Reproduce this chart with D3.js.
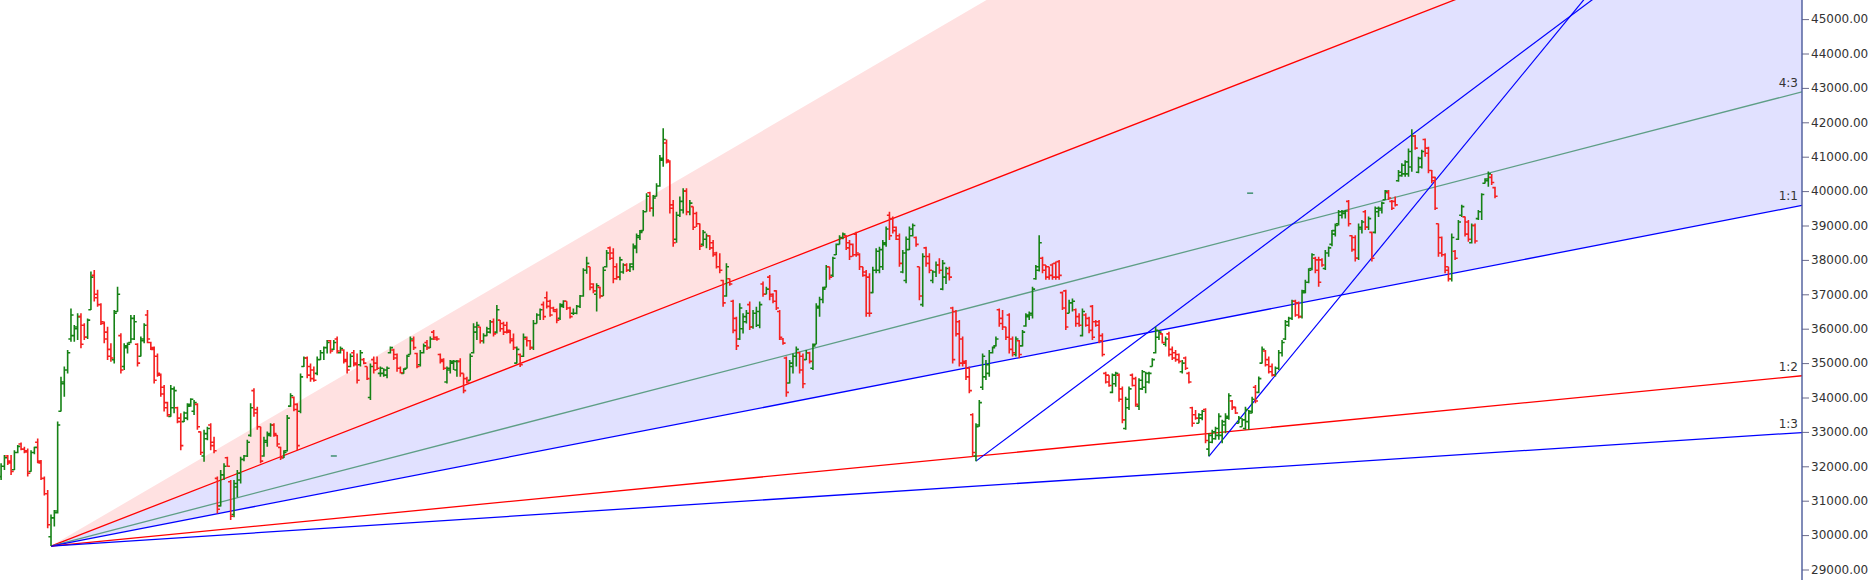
<!DOCTYPE html>
<html><head><meta charset="utf-8">
<script src="https://cdn.jsdelivr.net/npm/d3@7"></script>
<style>html,body{margin:0;padding:0;background:#fff;overflow:hidden}svg{display:block}</style>
</head><body>
<svg id="chart" width="1872" height="580"></svg>
<script>
// ---------------- DATA ----------------
const priceTicks = [29000,30000,31000,32000,33000,34000,35000,36000,37000,38000,39000,40000,41000,42000,43000,44000,45000];
const gannRatios = [3, 2, 4/3, 1, 1/2, 1/3];
const gannLabels = ["3:1", "2:1", "4:3", "1:1", "1:2", "1:3"];
const gannOrigin = [15, 29680];      // [bar index, price] of the fan origin (the low)
const gannUnit = 18.82;              // points per bar for the 1:1 angle
const trendStarts = [[293, 32150], [363, 32290]];
const trendThrough = [[434, 42360], [448.5, 42360]];
const markers = [[100, 32300], [375.4, 39940]];
// daily bars: [open, high, low, close]
const ohlc = [
[31700,32090,31600,32000],[32000,32330,31890,32250],[32300,32330,32040,32100],[32150,32330,31750,31850],[31900,32470,31890,32400],
[32400,32620,32380,32580],[32650,32690,32470,32500],[32500,32570,32380,32420],[32450,32520,31700,31800],[31850,32470,31840,32400],
[32400,32570,32350,32550],[32700,32810,32090,32150],[32100,32180,31600,31650],[31650,31700,31150,31200],[31200,31310,30200,30300],
[29950,30600,29680,30500],[30500,30730,30250,30650],[30700,33300,30630,33200],[33600,34600,33590,34450],[34400,34900,34020,34800],
[34800,35380,34700,35300],[35700,36590,35620,36400],[35800,36110,35620,36050],[36000,36450,35670,36350],[36350,36450,35430,35550],
[36100,36160,35670,35750],[35750,36300,35700,36250],[36550,37660,36540,37500],[37550,37710,36790,36900],[37000,37130,36640,36700],
[36700,36740,36110,36200],[36150,36210,35580,35700],[35900,36060,35090,35200],[35400,35580,35040,35150],[35100,36540,34990,36450],
[36500,37220,36490,37000],[35800,35870,34700,34800],[34900,35580,34800,35500],[35450,35600,35280,35550],[35600,36400,35580,36300],
[35700,36400,35670,36200],[35550,35580,34900,35000],[35200,35770,35190,35700],[35650,36160,35580,36100],[36400,36540,35580,35700],
[35600,35620,35380,35400],[35450,35480,34410,34500],[35200,35280,34600,34700],[34650,34700,34020,34100],[34300,34360,33590,33700],
[33850,33880,33440,33500],[33450,34360,33440,34250],[33700,34320,33540,34200],[33700,33730,33250,33300],[33400,33540,32470,32600],
[33300,33590,33290,33550],[33400,33830,33340,33750],[33800,33980,33730,33950],[33600,33930,33490,33850],[33800,33830,33060,33150],
[33000,33010,32330,32400],[32300,33060,32130,32950],[32800,33150,32760,33100],[33200,33250,32470,32600],[32700,32860,32380,32450],
[31650,31700,30630,30750],[30850,31890,30830,31750],[31750,32090,31600,32000],[32250,32280,31990,32000],[31550,31600,30440,30550],
[30600,31600,30520,31500],[31400,31890,31100,31800],[31600,32280,31500,32200],[32200,32330,32150,32300],[32300,32770,32270,32700],
[32900,33830,32860,33700],[34200,34270,33440,33550],[33650,33730,33060,33150],[33150,33150,32090,32150],[32300,32860,32280,32750],
[32700,33010,32570,32950],[32900,33250,32860,33200],[33200,33250,32860,32950],[32900,32910,32570,32650],[32550,32570,32180,32250],
[32250,32470,32240,32400],[32450,33490,32430,33400],[33750,34120,33730,34050],[34000,34030,33600,33650],[33800,33830,32470,32600],
[33600,34700,33540,34600],[34900,35190,34890,35150],[35150,35190,34560,34650],[34900,34990,34460,34550],[34800,34900,34460,34500],
[34700,35190,34650,35100],[35100,35380,35090,35300],[35300,35480,35090,35450],[35450,35670,35280,35600],[35650,35670,35280,35350],
[35400,35670,35380,35600],[35700,35770,35280,35350],[35300,35480,35280,35420],[35380,35400,34990,35050],[35100,35330,34700,34800],
[34900,35280,34880,35200],[35300,35380,34900,34950],[35000,35280,34410,34500],[34950,35380,34900,35300],[35100,35150,34970,35000],
[34900,34900,34510,34550],[34000,34990,33930,34900],[35100,35190,34700,34800],[35000,35190,34800,34850],[34700,34900,34600,34850],
[34700,34850,34600,34800],[34650,34900,34560,34850],[35300,35480,35280,35450],[35380,35420,35090,35150],[35250,35280,34750,34850],
[34850,34900,34700,34720],[34700,34850,34690,34820],[34850,35240,34840,35200],[35250,35770,35250,35700],[35650,35770,35380,35450],
[35280,35300,34850,34900],[34950,35380,34900,35300],[35300,35570,35280,35500],[35600,35670,35380,35450],[35450,35770,35440,35700],
[35900,35960,35670,35700],[35750,35780,35650,35700],[35250,35280,34990,35050],[35100,35140,34800,34850],[34450,34900,34410,34850],
[34800,35090,34700,35050],[35000,35090,34800,35050],[34800,35090,34600,35050],[35050,35140,34600,34700],[34700,34700,34120,34200],
[34550,34600,34410,34450],[34500,35280,34500,35200],[35300,36160,35280,36050],[35900,36200,35670,36100],[36050,36060,35570,35650],
[35650,35870,35570,35800],[35800,36060,35780,36000],[35900,36250,35860,36200],[36200,36300,35770,35850],[35900,36690,35860,36550],
[36250,36250,35910,36000],[36150,36200,35820,35900],[36100,36200,35860,35900],[35950,35960,35570,35650],[35700,35860,35380,35450],
[35000,35480,34990,35400],[35250,35280,34890,34950],[35200,35860,35180,35750],[35700,35770,35480,35650],[35650,35670,35380,35450],
[35450,36250,35380,36150],[36150,36450,36150,36400],[36400,36590,36250,36550],[36700,36790,36250,36350],[36900,37080,36590,36650],
[36800,36840,36350,36400],[36600,36640,36490,36500],[36550,36590,36160,36250],[36300,36740,36250,36700],[36650,36830,36600,36800],
[36800,36800,36540,36600],[36600,36640,36300,36350],[36450,36590,36400,36450],[36450,36690,36420,36650],[36650,36980,36600,36950],
[36950,37760,36930,37700],[37700,38090,37600,37900],[37800,37800,37120,37200],[37300,37320,37030,37100],[37000,37320,36500,37250],
[37200,37220,36880,36950],[36950,37800,36950,37700],[37800,38290,37780,38200],[38350,38390,38000,38050],[38200,38340,37320,37450],
[37800,37900,37420,37500],[37500,38090,37410,38000],[37650,37900,37600,37850],[37850,37900,37650,37700],[37700,37900,37650,37880],
[37800,38480,37700,38400],[38350,38770,38190,38700],[38650,38870,38580,38800],[38850,39450,38850,39400],[39400,39940,39400,39850],
[39950,39980,39400,39500],[39500,39890,39260,39800],[39850,40230,39840,40150],[40150,41050,40130,40950],[40900,41830,40710,41500],
[41400,41500,40800,40900],[40850,40900,39350,39500],[39600,39740,38380,38500],[38600,39400,38500,39300],[39300,39840,39250,39700],
[39450,40080,39350,40000],[40000,40080,39300,39400],[39400,39740,39300,39650],[39550,39550,38870,38950],[39350,39400,38960,39050],
[39050,39060,38290,38400],[38450,38870,38400,38800],[38600,38770,38340,38700],[38700,38720,38290,38350],[38500,38580,38090,38150],
[38200,38240,37750,37800],[37800,38190,37610,37700],[37400,37420,36640,36750],[36950,37900,36930,37800],[37450,37460,37250,37300],
[36800,36840,35870,35950],[36300,36350,35380,35500],[35700,36740,35670,36600],[36000,36450,35860,36350],[36200,36540,36150,36450],
[36700,36790,35960,36050],[36050,36540,36000,36450],[36450,36640,36050,36500],[36100,36790,36010,36700],[37300,37370,36930,37000],
[37000,37220,37000,37150],[37500,37560,36830,36950],[37000,37030,36740,36800],[37100,37120,36540,36600],[36500,36540,35670,35750],
[35700,35730,35530,35580],[35150,35190,34020,34150],[34420,35090,34410,35000],[34900,35280,34700,35200],[35200,35480,34900,35400],
[35300,35330,34700,34800],[35200,35280,34270,34400],[35100,35380,35090,35300],[35300,35330,34990,35050],[34850,35570,34800,35500],
[35550,36740,35550,36650],[36600,36930,36350,36850],[36850,37220,36740,37150],[37200,37850,37200,37800],[37800,37800,37420,37500],
[37550,38090,37500,38050],[38150,38480,38140,38450],[38450,38720,38450,38650],[38650,38800,38600,38750],[38700,38720,38290,38350],
[38500,38580,38000,38100],[38450,38480,38090,38150],[38750,38820,38090,38200],[38150,38190,37710,37800],[37800,37800,37510,37550],
[37650,37710,36350,36450],[37500,37610,36350,36450],[37050,37800,37030,37700],[37700,38340,37610,38250],[37700,38380,37610,38300],
[37800,38580,37710,38500],[38450,38970,38380,38900],[39300,39400,38580,38700],[39200,39260,38770,38850],[38950,38970,38580,38600],
[38700,38770,37800,37900],[37650,38290,37610,38200],[37400,38680,37320,38600],[38300,38970,38290,38900],[38700,39060,38680,39000],
[38650,38680,38380,38450],[37800,37800,36830,36950],[36700,38190,36640,38100],[38350,38380,37800,37900],[38100,38190,37610,37700],
[37400,37700,37320,37650],[37650,37950,37500,37850],[37850,38050,37600,37700],[37150,38000,37120,37900],[37500,37800,37300,37750],
[37600,37800,37400,37500],[36600,36640,34990,35100],[36500,36540,35770,35850],[36200,36250,34900,35000],[35700,35770,34900,35000],
[35050,35090,34510,34600],[34850,34900,34120,34200],[33500,33540,32280,32400],[32300,33250,32150,33150],[33200,33930,33150,33850],
[34300,35280,34220,35200],[34600,35090,34510,34950],[34700,35380,34600,35300],[35300,35480,35280,35450],[35500,35770,35480,35700],
[36550,36590,36060,36150],[36300,36540,35960,36050],[36050,36060,35670,35750],[36400,36450,35280,35400],[35700,35770,35190,35300],
[35250,35770,35190,35700],[35650,35670,35140,35250],[35500,35960,35480,35900],[36080,36450,36060,36400],[36350,36500,36250,36450],
[36400,37220,36300,37150],[37450,37850,37420,37800],[37700,38720,37660,38500],[38050,38090,37610,37700],[37850,37850,37420,37500],
[37800,37800,37420,37550],[37850,37900,37420,37500],[37900,37950,37420,37500],[37950,38000,37420,37550],[37050,37080,36540,36600],
[37100,37130,35960,36050],[36450,36840,36450,36750],[36750,36880,36500,36800],[36550,36590,36060,36150],[36350,36450,36060,36100],
[35800,36590,35770,36500],[36400,36450,36060,36100],[36300,36350,35870,35950],[36650,36690,35670,35750],[36200,36250,36060,36100],
[36200,36250,35580,35650],[35800,35870,35190,35250],[34700,34750,34410,34450],[34650,34650,34310,34350],[34150,34700,34120,34650],
[34400,34750,34310,34700],[34650,34700,33880,33950],[34250,34320,33250,33350],[33100,34020,33060,33950],[33700,34320,33640,34250],
[34650,34700,34320,34350],[34550,34600,33730,33800],[33750,34560,33640,34500],[34250,34800,34220,34750],[34300,34750,34120,34700],
[34450,34750,34410,34700],[34900,35140,34900,35100],[35300,36060,35280,35950],[35750,35960,35670,35900],[35850,35870,35570,35600],
[35550,35770,35480,35700],[35850,35910,35190,35250],[35400,35480,35090,35150],[35300,35380,35040,35100],[35250,35280,34990,35050],
[34750,35090,34700,35000],[35150,35190,34800,34850],[34700,34750,34410,34450],[33700,33730,33150,33250],[33500,33640,33350,33400],
[33250,33540,33250,33500],[33400,33640,33340,33600],[33650,33690,32670,32750],[32500,32960,32290,32900],[32700,33060,32670,33000],
[32800,33150,32770,33100],[32900,33540,32770,33450],[32900,33350,32670,33300],[33200,33540,32960,33450],[33400,34120,33350,34050],
[33900,33930,33640,33700],[33720,33730,33520,33550],[33250,33460,33250,33400],[33150,33400,33150,33350],[33100,33730,33060,33650],
[33300,33640,33060,33600],[33550,34020,33540,33950],[34300,34360,33830,33900],[34150,34610,34120,34550],[35000,35480,34990,35400],
[35350,35380,34900,34950],[35100,35190,34700,34750],[34900,34990,34610,34650],[34650,34900,34610,34850],[34850,35380,34800,35300],
[35300,35670,35190,35600],[35700,36250,35670,36200],[36100,36350,36060,36300],[36300,36840,36250,36800],[36800,36840,36350,36400],
[36750,36790,36300,36350],[36350,37130,36300,37100],[37050,37420,37030,37350],[37350,37760,37320,37700],[37750,38190,37700,38150],
[38050,38090,37610,37700],[38000,38090,37220,37350],[38000,38050,37800,37850],[37750,38290,37710,38200],[38200,38390,38090,38350],
[38450,38870,38400,38850],[38750,39060,38680,39000],[39050,39450,39000,39400],[39300,39450,39200,39400],[39350,39450,39200,39420],
[39700,39740,38970,39050],[38700,38720,38240,38300],[38650,38720,37950,38050],[38050,39060,38000,38950],[38900,39160,38770,39100],
[39400,39450,38870,38950],[38950,39260,38870,39200],[38800,38820,37950,38050],[38800,39550,38770,39500],[39400,39550,39250,39500],
[39450,39690,39350,39650],[39750,40030,39740,40000],[39950,40030,39740,39800],[39700,39740,39450,39500],[39700,39840,39550,39600],
[40300,40610,40270,40550],[40450,40810,40420,40750],[40500,40900,40420,40850],[40500,41240,40420,41150],[40700,41800,40560,41600],
[41600,41630,41200,41250],[40550,41000,40520,40950],[40700,41200,40660,41150],[41500,41530,41000,41100],[41250,41290,40520,40600],
[40600,40610,40230,40300],[40400,40420,39450,39500],[39050,39060,38090,38200],[38650,38680,38090,38150],[38150,38190,37610,37700],
[37800,37800,37370,37450],[37450,38770,37370,38650],[38250,38290,38000,38050],[38600,39160,38580,39100],[39300,39600,39250,39550],
[39250,39260,38680,38750],[39100,39160,38530,38600],[38500,39060,38480,39000],[39000,39060,38480,38550],[39200,39450,39160,39400],
[39400,39940,39160,39900],[40230,40370,40220,40350],[40300,40570,40130,40500],[40400,40500,40180,40250],[40100,40130,39790,39850]
];

// ---------------- LAYOUT / STYLE ----------------
const W = 1872, H = 580, axisX = 1802;
const upColor = "#168216", downColor = "#f52020";
const fanColors = {"2:1": "#ff0000", "4:3": "#5e9e86", "1:1": "#0000ff", "1:2": "#ff0000", "1:3": "#0000ff"};
const fillColors = [["3:1", "2:1", "#ffe1e1"], ["2:1", "1:1", "#e1e1ff"]];
const labelled = ["4:3", "1:1", "1:2", "1:3"];

const x = d3.scaleLinear().domain([0, ohlc.length - 1]).range([1.1, 1495]);
const y = d3.scaleLinear().domain([29000, 45000]).range([569.5, 19.1]);

const svg = d3.select("#chart");
svg.append("rect").attr("width", W).attr("height", H).attr("fill", "#fff");
svg.append("defs").append("clipPath").attr("id", "plotClip")
  .append("rect").attr("x", 0).attr("y", 0).attr("width", axisX).attr("height", H);
const plot = svg.append("g").attr("clip-path", "url(#plotClip)");

// Gann fan
const iEnd = x.invert(axisX);
const ratioOf = lab => gannRatios[gannLabels.indexOf(lab)];
const fanPrice = (r, i) => gannOrigin[1] + r * gannUnit * (i - gannOrigin[0]);
const ox = x(gannOrigin[0]), oy = y(gannOrigin[1]);

fillColors.forEach(([a, b, col]) => {
  const pts = [[ox, oy], [axisX, y(fanPrice(ratioOf(a), iEnd))], [axisX, y(fanPrice(ratioOf(b), iEnd))]];
  plot.append("path").attr("d", d3.line()(pts) + "Z").attr("fill", col).attr("stroke", "none");
});

gannLabels.forEach((lab, k) => {
  const col = fanColors[lab];
  if (!col) return;
  plot.append("line")
    .attr("x1", ox).attr("y1", oy)
    .attr("x2", axisX).attr("y2", y(fanPrice(gannRatios[k], iEnd)))
    .attr("stroke", col).attr("stroke-width", 1.3);
});

// trend lines
trendStarts.forEach((p, k) => {
  const q = trendThrough[k];
  const slope = (q[1] - p[1]) / (q[0] - p[0]);
  const iFar = p[0] + 200;
  plot.append("line")
    .attr("x1", x(p[0])).attr("y1", y(p[1]))
    .attr("x2", x(iFar)).attr("y2", y(p[1] + slope * 200))
    .attr("stroke", "#0000ff").attr("stroke-width", 1.2);
});

// small horizontal markers
markers.forEach(m => {
  plot.append("line").attr("x1", x(m[0]) - 3).attr("x2", x(m[0]) + 3)
    .attr("y1", y(m[1])).attr("y2", y(m[1]))
    .attr("stroke", "#3f8f6f").attr("stroke-width", 1.5);
});

// OHLC bars
const up = [], dn = [];
ohlc.forEach((d, i) => {
  const [o, h, l, c] = d;
  const xi = x(i);
  const s = `M${xi},${y(h)}V${y(l)}M${xi - 2.6},${y(o)}H${xi}M${xi},${y(c)}H${xi + 2.6}`;
  (c >= o ? up : dn).push(s);
});
plot.append("path").attr("d", up.join("")).attr("fill", "none").attr("stroke", upColor).attr("stroke-width", 1.6);
plot.append("path").attr("d", dn.join("")).attr("fill", "none").attr("stroke", downColor).attr("stroke-width", 1.6);

// fan labels
gannLabels.forEach((lab, k) => {
  if (!labelled.includes(lab)) return;
  const yy = y(fanPrice(gannRatios[k], iEnd));
  svg.append("text").attr("x", axisX - 4).attr("y", yy - 5)
    .attr("text-anchor", "end").attr("font-family", "DejaVu Sans, Verdana, sans-serif")
    .attr("font-size", 12).attr("fill", "#333").text(lab);
});

// price axis
const minorTicks = d3.range(28800, 45600, 200).filter(v => v % 1000 !== 0);
const axG = svg.append("g").attr("transform", `translate(${axisX},0)`);
axG.call(d3.axisRight(y).tickValues(minorTicks).tickSize(3).tickFormat(""));
axG.call(d3.axisRight(y).tickValues(priceTicks).tickSize(7).tickPadding(2).tickFormat(d3.format(".2f")));
axG.selectAll(".domain").remove();
axG.selectAll(".tick line").attr("stroke", "#6a6a8a").attr("stroke-width", 1);
axG.selectAll(".tick text").attr("font-family", "DejaVu Sans, Verdana, sans-serif")
  .attr("font-size", 12).attr("fill", "#333");
axG.append("line").attr("x1", 0).attr("x2", 0).attr("y1", 0).attr("y2", H)
  .attr("stroke", "#4a5a9a").attr("stroke-width", 1.4);
</script>
</body></html>
